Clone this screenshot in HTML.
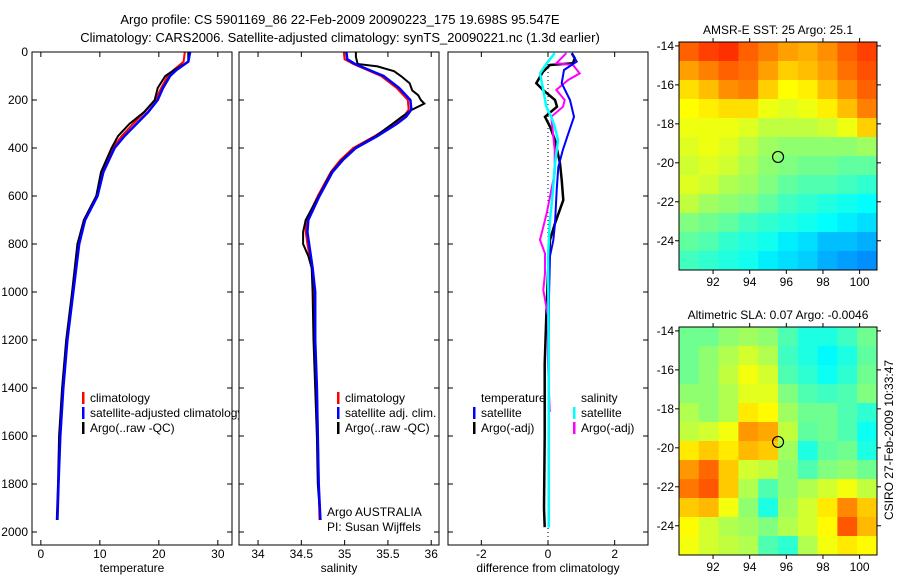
<!DOCTYPE html>
<html><head><meta charset="utf-8"><style>
html,body{margin:0;padding:0;background:#fff;}
svg{display:block;font-family:"Liberation Sans",sans-serif;}
text{font-size:12px;fill:#000;}
</style></head><body>
<svg id="fig" width="900" height="580" viewBox="0 0 900 580" xmlns="http://www.w3.org/2000/svg">
<text x="340" y="24" text-anchor="middle" style="font-size:13px">Argo profile: CS 5901169_86 22-Feb-2009 20090223_175 19.698S 95.547E</text>
<text x="340" y="42" text-anchor="middle" style="font-size:13px">Climatology: CARS2006. Satellite-adjusted climatology: synTS_20090221.nc (1.3d earlier)</text>
<g id="layer"></g>
<text transform="translate(893,440) rotate(-90)" text-anchor="middle">CSIRO 27-Feb-2009 10:33:47</text>
</svg>
<script>
// ---- profile data (depth in m) ----
const tDepth = [0,40,75,100,150,200,250,300,350,400,500,600,700,800,1000,1200,1400,1600,1800,1950];
const tClim  = [24.4,24.2,22.5,21.5,20.4,19.4,17.6,15.6,13.7,12.2,10.4,9.4,7.3,6.3,5.4,4.4,3.7,3.2,3.0,2.8];
const tSat   = [25.3,25.0,23.0,21.9,20.7,19.8,18.2,16.2,14.2,12.5,10.6,9.6,7.5,6.5,5.5,4.5,3.8,3.3,3.0,2.8];
const tArgo  = [25.0,25.0,22.6,21.1,19.8,19.3,17.5,15.0,13.1,12.0,10.2,9.4,7.3,6.2,5.3,4.3,3.6,3.1,2.9,2.7];
const sDepth = [0,30,50,100,150,200,240,270,300,350,400,450,500,600,700,750,800,900,1000,1200,1400,1600,1800,1950];
const sClim  = [34.99,35.0,35.1,35.42,35.6,35.73,35.74,35.68,35.57,35.35,35.1,34.95,34.84,34.69,34.56,34.55,34.57,34.62,34.65,34.66,34.68,34.69,34.70,34.71];
const sSat   = [35.02,35.03,35.12,35.45,35.63,35.76,35.77,35.71,35.6,35.38,35.13,34.98,34.86,34.71,34.58,34.57,34.59,34.63,34.66,34.66,34.68,34.69,34.70,34.72];
const aDepth = [0,20,50,60,80,100,130,160,180,200,215,240,270,300,350,400,450,500,600,700,750,800,850,900,1000,1200,1400,1600,1800,1950];
const sArgo  = [35.13,35.13,35.15,35.38,35.57,35.65,35.75,35.78,35.85,35.88,35.92,35.78,35.66,35.55,35.36,35.12,34.97,34.85,34.7,34.55,34.52,34.52,34.58,34.62,34.63,34.64,34.66,34.68,34.69,34.72];
// difference panel
const dTSatDepth = [5,40,75,130,200,270,340,410,480,575,715,785,850,1020,1500,1980];
const dTSat      = [0.71,0.86,0.48,0.41,0.66,0.78,0.61,0.44,0.31,0.26,0.21,0.16,0.06,0.03,0.02,0.02];
const dTArgoDepth = [5,26,47,54,82,130,158,200,228,270,311,367,464,533,617,714,783,922,1100,1300,1600,1900,1980];
const dTArgo      = [0.71,0.8,0.75,0.06,-0.15,-0.35,-0.15,0.21,0.27,-0.09,0.06,0.21,0.36,0.41,0.46,0.21,0.06,0.0,-0.05,-0.1,-0.1,-0.12,-0.1];
const dSSatDepth = [5,47,89,158,228,270,311,367,478,575,714,853,1200,1600,1980];
const dSSat      = [0.2,-0.04,-0.24,-0.14,-0.05,0.1,0.2,0.3,0.2,0.15,0.05,0.0,0.02,0.02,0.02];
const dSArgoDepth = [5,47,54,89,117,158,200,228,270,339,408,505,575,672,728,783,839,922,992,1100,1300,1500];
const dSArgo      = [0.55,0.25,0.75,0.95,0.6,0.25,0.5,0.45,0.1,0.15,0.2,0.2,0.1,-0.04,-0.14,-0.24,-0.09,-0.09,-0.14,0.0,0.0,0.05];
// maps (rows: lat -14.5..-25.5, cols: lon ~90.7..100.3)
const sstGrid = [
[28.0,28.2,28.3,28.0,27.8,27.6,27.5,27.7,28.0,28.2],
[27.6,27.8,28.0,27.9,27.6,27.3,27.4,27.6,27.9,28.1],
[27.2,27.4,27.7,27.8,27.3,27.0,27.1,27.4,27.7,28.0],
[27.0,27.1,27.2,27.2,26.9,26.8,26.9,27.1,27.4,27.8],
[26.9,26.9,26.9,26.8,26.6,26.6,26.6,26.7,26.9,27.3],
[26.8,26.9,26.8,26.6,26.4,26.3,26.3,26.3,26.3,26.4],
[26.7,26.8,26.7,26.5,26.3,26.2,26.1,26.1,26.0,26.0],
[26.8,26.7,26.5,26.4,26.2,26.0,25.9,25.9,25.8,25.7],
[26.6,26.4,26.3,26.2,26.0,25.8,25.7,25.6,25.5,25.4],
[26.2,26.1,26.0,25.8,25.7,25.6,25.5,25.4,25.3,25.2],
[26.0,25.9,25.7,25.6,25.5,25.3,25.2,25.0,25.0,24.9],
[25.8,25.7,25.6,25.5,25.3,25.2,25.1,24.9,24.8,24.7]];
const slaGrid = [
[0.0,0.0,0.02,0.03,0.02,-0.02,-0.05,-0.05,-0.03,0.0],
[0.0,0.02,0.04,0.06,0.04,-0.03,-0.05,-0.07,-0.05,-0.01],
[0.0,0.02,0.05,0.08,0.06,-0.02,-0.04,-0.06,-0.04,0.0],
[0.02,0.02,0.04,0.07,0.07,0.01,-0.02,-0.03,-0.02,0.01],
[0.04,0.02,0.04,0.10,0.09,0.03,0.0,0.0,-0.02,-0.04],
[0.05,0.06,0.08,0.15,0.14,0.05,-0.01,0.0,-0.02,-0.06],
[0.10,0.12,0.10,0.13,0.12,0.03,-0.05,-0.01,0.0,-0.05],
[0.15,0.18,0.12,0.06,0.05,0.02,-0.02,0.01,0.02,0.0],
[0.17,0.19,0.12,0.04,-0.02,0.02,0.04,0.06,0.08,0.05],
[0.12,0.13,0.08,0.02,-0.05,0.03,0.06,0.10,0.16,0.12],
[0.09,0.06,0.04,0.03,0.01,0.04,0.06,0.09,0.19,0.13],
[0.08,0.06,0.05,0.04,-0.02,-0.04,0.04,0.08,0.10,0.09]];
const depthTicks = [0,200,400,600,800,1000,1200,1400,1600,1800,2000];
const tTicks = [0,10,20,30];
const sTicks = [34,34.5,35,35.5,36];
const dTicks = [-2,0,2];
const lonTicks = [92,94,96,98,100];
const latTicks = [14,16,18,20,22,24];
const argoLon = 95.547, argoLat = -19.698;

const NS='http://www.w3.org/2000/svg';
const L=document.getElementById('layer');
function mk(tag,attrs,parent){const e=document.createElementNS(NS,tag);for(const k in attrs)e.setAttribute(k,attrs[k]);(parent||L).appendChild(e);return e;}
const yD = d => 52 + d*0.24;
const TOP=52, BOT=545;
function panel(name,x0,x1,vmin,vmax,ticks,label,ylabels){
  const g=mk('g',{});
  
  
  mk('rect',{x:x0,y:TOP,width:x1-x0,height:BOT-TOP,fill:'#fff',stroke:'none'},g);
  const sx=v=>x0+(v-vmin)/(vmax-vmin)*(x1-x0);
  ticks.forEach(t=>{const x=sx(t);
    mk('line',{x1:x,x2:x,y1:TOP,y2:TOP+5,stroke:'#000'},g);
    mk('line',{x1:x,x2:x,y1:BOT,y2:BOT-5,stroke:'#000'},g);
    const tx=mk('text',{x:x,y:BOT+13,'text-anchor':'middle'},g);tx.textContent=String(t);
    
    
  });
  depthTicks.forEach(d=>{const y=yD(d);
    mk('line',{x1:x0,x2:x0+5,y1:y,y2:y,stroke:'#000'},g);
    mk('line',{x1:x1,x2:x1-5,y1:y,y2:y,stroke:'#000'},g);
    if(ylabels){const tx=mk('text',{x:x0-4,y:y+4,'text-anchor':'end'},g);tx.textContent=String(d);
      
      }
  });
  const lt=mk('text',{x:(x0+x1)/2,y:BOT+27,'text-anchor':'middle'},g);lt.textContent=label;
  
  
  return {g,sx,x0,x1};
}
function line(p,depths,vals,color,w,name){
  const pts=depths.map((d,i)=>p.sx(vals[i]).toFixed(1)+','+yD(d).toFixed(1)).join(' ');
  const e=mk('polyline',{points:pts,fill:'none',stroke:color,'stroke-width':w,'stroke-linejoin':'miter'},p.g);
  
  
}
function frame(p){mk('rect',{x:p.x0,y:TOP,width:p.x1-p.x0,height:BOT-TOP,fill:'none',stroke:'#000'},p.g);}
function legend(p,x,y,color,label){
  if(color){const m=mk('rect',{x:x,y:y-10,width:2.5,height:12,fill:color},p.g);
    
    }
  const t=mk('text',{x:x+8,y:y},p.g);t.textContent=label;
  
  
}
// temperature panel
const p1=panel('temperature-panel',32,232,-1.5,32.4,tTicks,'temperature',true);
line(p1,tDepth,tClim,'#f00',2,'temp-climatology-line');
line(p1,tDepth,tArgo,'#000',2,'temp-argo-line');
line(p1,tDepth,tSat,'#00f',2.5,'temp-satellite-line');
legend(p1,82,402,'#f00','climatology');
legend(p1,82,417,'#00f','satellite-adjusted climatology');
legend(p1,82,432,'#000','Argo(..raw -QC)');
frame(p1);
// salinity panel
const p2=panel('salinity-panel',239,439,33.78,36.09,sTicks,'salinity',false);
line(p2,sDepth,sClim,'#f00',2,'sal-climatology-line');
line(p2,aDepth,sArgo,'#000',2,'sal-argo-line');
line(p2,sDepth,sSat,'#00f',2.5,'sal-satellite-line');
legend(p2,337,402,'#f00','climatology');
legend(p2,337,417,'#00f','satellite adj. clim.');
legend(p2,337,432,'#000','Argo(..raw -QC)');
legend(p2,319,516,null,'Argo AUSTRALIA');
legend(p2,319,531,null,'PI: Susan Wijffels');
frame(p2);
// difference panel
const p3=panel('difference-panel',448,648,-3.0,3.0,dTicks,'difference from climatology',false);
const z=mk('line',{x1:p3.sx(0),x2:p3.sx(0),y1:TOP,y2:BOT-8,stroke:'#000','stroke-dasharray':'1,3'},p3.g);


line(p3,dTArgoDepth,dTArgo,'#000',2.5,'diff-temp-argo-line');
line(p3,dSArgoDepth,dSArgo,'#f0f',2,'diff-sal-argo-line');
line(p3,dTSatDepth,dTSat,'#00f',2,'diff-temp-satellite-line');
line(p3,dSSatDepth,dSSat,'#0ff',2.5,'diff-sal-satellite-line');
legend(p3,473,402,null,'temperature');
legend(p3,473,417,'#00f','satellite');
legend(p3,473,432,'#000','Argo(-adj)');
legend(p3,573,402,null,'salinity');
legend(p3,573,417,'#0ff','satellite');
legend(p3,573,432,'#f0f','Argo(-adj)');
frame(p3);

// jet colormap
function jet(t){t=Math.max(0,Math.min(1,t));
  const f=x=>Math.round(255*Math.max(0,Math.min(1,1.5-Math.abs(x))));
  return 'rgb('+f(4*t-3)+','+f(4*t-2)+','+f(4*t-1)+')';}
function map(name,title,top,grid,vmin,vmax){
  const x0=679,x1=877,bot=top+228;
  const lon0=90.14,lon1=100.95,lat0=-13.8,lat1=-25.5;
  const sx=l=>x0+(l-lon0)/(lon1-lon0)*(x1-x0);
  const sy=l=>top+(l-lat0)/(lat1-lat0)*(bot-top);
  const g=mk('g',{});
  
  
  const t=mk('text',{x:(x0+x1)/2,y:top-8,'text-anchor':'middle'},g);t.textContent=title;
  
  
  const R=grid.length,C=grid[0].length,cw=(x1-x0)/C,ch=(bot-top)/R;
  grid.forEach((row,i)=>row.forEach((v,j)=>{
    const c=mk('rect',{x:x0+j*cw,y:top+i*ch,width:cw+0.5,height:ch+0.5,fill:jet((v-vmin)/(vmax-vmin))},g);
    
    
  }));
  mk('rect',{x:x0,y:top,width:x1-x0,height:bot-top,fill:'none',stroke:'#000'},g);
  lonTicks.forEach(l=>{const x=sx(l);
    mk('line',{x1:x,x2:x,y1:bot,y2:bot+4,stroke:'#000'},g);
    mk('line',{x1:x,x2:x,y1:top,y2:top-4,stroke:'#000'},g);
    const tx=mk('text',{x:x,y:bot+16,'text-anchor':'middle'},g);tx.textContent=String(l);
    
    });
  latTicks.forEach(l=>{const y=sy(-l);
    mk('line',{x1:x0,x2:x0-4,y1:y,y2:y,stroke:'#000'},g);
    mk('line',{x1:x1,x2:x1+4,y1:y,y2:y,stroke:'#000'},g);
    const tx=mk('text',{x:x0-5,y:y+4,'text-anchor':'end'},g);tx.textContent='-'+l;
    
    });
  const c=mk('circle',{cx:sx(argoLon),cy:sy(argoLat),r:5.5,fill:'none',stroke:'#000','stroke-width':1.2},g);
  
  
}
map('sst-map','AMSR-E SST: 25 Argo: 25.1',42,sstGrid,23.0,29.4);
map('sla-map','Altimetric SLA: 0.07 Argo: -0.0046',327,slaGrid,-0.3,0.32);
</script>
</body></html>
